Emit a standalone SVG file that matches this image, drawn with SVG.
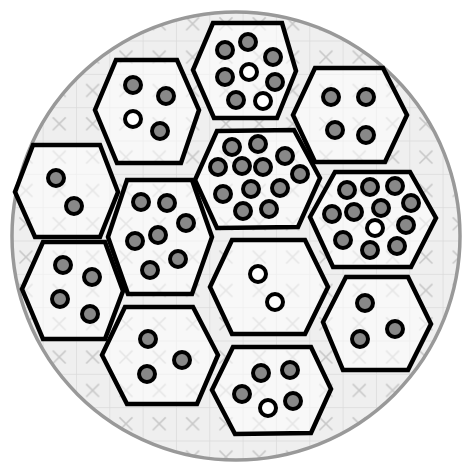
<svg xmlns="http://www.w3.org/2000/svg" width="466" height="464" viewBox="0 0 466 464">
<defs>
<clipPath id="disc"><circle cx="236" cy="236" r="224"/></clipPath>
<pattern id="grid" x="9.3" y="7.2" width="33.33" height="33.33" patternUnits="userSpaceOnUse">
<rect width="33.33" height="33.33" fill="#efefef"/>
<path d="M0 0H33.33M0 0V33.33" stroke="#dadada" stroke-width="1.5" fill="none"/>
<path d="M10.2 10.2L23.1 23.1M23.1 10.2L10.2 23.1" stroke="#c8c8c8" stroke-width="1.5" fill="none"/>
</pattern>
</defs>
<style>
.hex{fill:#ffffff;fill-opacity:0.55;stroke:#000;stroke-width:4.5;stroke-linejoin:miter}
.d{fill:#888;stroke:#000;stroke-width:4}
.w{fill:#fff;stroke:#000;stroke-width:4}
</style>
<g id="background">
<circle cx="236" cy="236" r="224" fill="#efefef"/>
<rect x="0" y="0" width="466" height="464" fill="url(#grid)" clip-path="url(#disc)"/>
<circle cx="236" cy="236" r="224" fill="none" stroke="#999" stroke-width="3.5"/>
</g>
<g id="connectors"></g>
<g id="hex-top">
<polygon class="hex" points="213,23 282,23 296,71 277,118 214,118 193,70"/>
<circle class="d" cx="225" cy="50" r="8"/><circle class="d" cx="248" cy="42" r="8"/><circle class="d" cx="273" cy="57" r="8"/>
<circle class="d" cx="225" cy="77" r="8"/><circle class="w" cx="249" cy="72" r="8"/><circle class="d" cx="275" cy="82" r="8"/>
<circle class="d" cx="236" cy="100" r="8"/><circle class="w" cx="263" cy="101" r="8"/>
</g>
<g id="hex-upper-left">
<polygon class="hex" points="116,60 177,60 199,110 181,163 117,163 95,110"/>
<circle class="d" cx="133" cy="85" r="8"/><circle class="d" cx="166" cy="96" r="8"/>
<circle class="w" cx="133" cy="119" r="8"/><circle class="d" cx="160" cy="131" r="8"/>
</g>
<g id="hex-upper-right">
<polygon class="hex" points="315,68 383,68 407,115 385,162 315,162 293,115"/>
<circle class="d" cx="331" cy="97" r="8"/><circle class="d" cx="366" cy="97" r="8"/>
<circle class="d" cx="335" cy="130" r="8"/><circle class="d" cx="366" cy="135" r="8"/>
</g>
<g id="hex-left">
<polygon class="hex" points="33,145 100,145 118,192 100,237 35,237 15,192"/>
<circle class="d" cx="56" cy="178" r="8"/><circle class="d" cx="74" cy="206" r="8"/>
</g>
<g id="hex-center">
<polygon class="hex" points="217,131 294,130 320,178 298,227 217,228 195,180"/>
<circle class="d" cx="232" cy="147" r="8"/><circle class="d" cx="258" cy="144" r="8"/><circle class="d" cx="285" cy="156" r="8"/>
<circle class="d" cx="218" cy="167" r="8"/><circle class="d" cx="242" cy="166" r="8"/><circle class="d" cx="263" cy="167" r="8"/>
<circle class="d" cx="300" cy="174" r="8"/><circle class="d" cx="223" cy="194" r="8"/><circle class="d" cx="251" cy="189" r="8"/>
<circle class="d" cx="280" cy="188" r="8"/><circle class="d" cx="243" cy="211" r="8"/><circle class="d" cx="269" cy="209" r="8"/>
</g>
<g id="hex-right">
<polygon class="hex" points="335,172 410,172 436,218 411,267 333,267 310,217"/>
<circle class="d" cx="347" cy="190" r="8"/><circle class="d" cx="370" cy="187" r="8"/><circle class="d" cx="395" cy="186" r="8"/>
<circle class="d" cx="411" cy="203" r="8"/><circle class="d" cx="332" cy="214" r="8"/><circle class="d" cx="354" cy="212" r="8"/>
<circle class="d" cx="381" cy="208" r="8"/><circle class="w" cx="375" cy="228" r="8"/><circle class="d" cx="406" cy="225" r="8"/>
<circle class="d" cx="343" cy="240" r="8"/><circle class="d" cx="370" cy="250" r="8"/><circle class="d" cx="397" cy="246" r="8"/>
</g>
<g id="hex-middle-left">
<polygon class="hex" points="127,180 192,180 212,237 192,294 128,294 108,237"/>
<circle class="d" cx="141" cy="202" r="8"/><circle class="d" cx="167" cy="203" r="8"/><circle class="d" cx="186" cy="223" r="8"/>
<circle class="d" cx="135" cy="241" r="8"/><circle class="d" cx="158" cy="235" r="8"/><circle class="d" cx="178" cy="259" r="8"/>
<circle class="d" cx="150" cy="270" r="8"/>
</g>
<g id="hex-lower-left">
<polygon class="hex" points="43,242 105,242 123,291 105,339 43,339 22,289"/>
<circle class="d" cx="63" cy="265" r="8"/><circle class="d" cx="92" cy="277" r="8"/>
<circle class="d" cx="60" cy="299" r="8"/><circle class="d" cx="90" cy="314" r="8"/>
</g>
<g id="hex-middle">
<polygon class="hex" points="232,240 305,240 328,287 305,334 232,334 210,287"/>
<circle class="w" cx="258" cy="274" r="8"/><circle class="w" cx="275" cy="302" r="8"/>
</g>
<g id="hex-lower-right">
<polygon class="hex" points="346,277 408,277 431,324 408,370 343,370 323,322"/>
<circle class="d" cx="365" cy="303" r="8"/><circle class="d" cx="395" cy="329" r="8"/><circle class="d" cx="360" cy="339" r="8"/>
</g>
<g id="hex-bottom-left">
<polygon class="hex" points="125,307 193,307 218,355 197,404 127,404 102,355"/>
<circle class="d" cx="148" cy="339" r="8"/><circle class="d" cx="182" cy="360" r="8"/><circle class="d" cx="147" cy="374" r="8"/>
</g>
<g id="hex-bottom">
<polygon class="hex" points="233,347 311,347 331,389 311,433 235,434 212,390"/>
<circle class="d" cx="261" cy="373" r="8"/><circle class="d" cx="290" cy="370" r="8"/><circle class="d" cx="242" cy="394" r="8"/>
<circle class="w" cx="268" cy="408" r="8"/><circle class="d" cx="293" cy="401" r="8"/>
</g>
</svg>
